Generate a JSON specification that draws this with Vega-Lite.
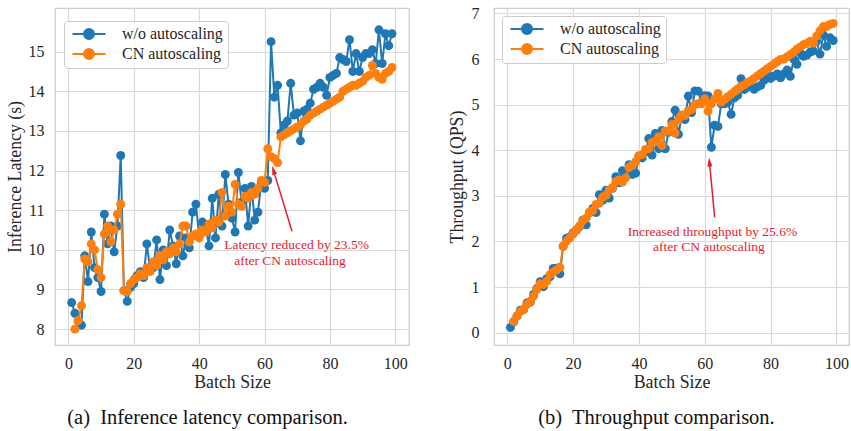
{
  "$schema": "https://vega.github.io/schema/vega-lite/v6.json",
  "padding": {"left": 5, "top": 4, "right": 0, "bottom": 0},
  "background": "white",
  "spacing": 37,
  "config": {
    "font": "Liberation Serif",
    "view": {"stroke": "#cccccc", "strokeWidth": 1.25},
    "axis": {"grid": true, "gridColor": "#d9d9d9", "gridWidth": 1.2, "domain": false, "ticks": false, "labelFont": "Liberation Serif", "labelFontSize": 16, "labelColor": "#262626", "titleFont": "Liberation Serif", "titleFontSize": 17.8, "titleFontWeight": "normal", "titleColor": "#262626"},
    "legend": {"labelFont": "Liberation Serif", "labelFontSize": 16, "labelColor": "#262626", "symbolType": "M-3.3,0L3.3,0M1,0A1,1,0,1,1,-1,0A1,1,0,1,1,1,0Z", "symbolSize": 100, "symbolStrokeWidth": 2, "symbolOffset": 12, "labelOffset": 25, "padding": 5, "rowPadding": 2, "fillColor": "rgba(255,255,255,0.8)", "strokeColor": "#cccccc", "cornerRadius": 3},
    "title": {"font": "Liberation Serif", "fontSize": 20.5, "fontWeight": "normal", "color": "#111111"}
  },
  "resolve": {"legend": {"color": "independent"}},
  "datasets": {
    "perf": [
      {"b":1,"s":"w/o autoscaling","lat":8.67,"qps":0.115},
      {"b":2,"s":"w/o autoscaling","lat":8.40,"qps":0.238},
      {"b":3,"s":"w/o autoscaling","lat":8.20,"qps":0.366},
      {"b":4,"s":"w/o autoscaling","lat":8.10,"qps":0.494},
      {"b":5,"s":"w/o autoscaling","lat":9.85,"qps":0.508},
      {"b":6,"s":"w/o autoscaling","lat":9.20,"qps":0.652},
      {"b":7,"s":"w/o autoscaling","lat":10.45,"qps":0.670},
      {"b":8,"s":"w/o autoscaling","lat":9.55,"qps":0.838},
      {"b":9,"s":"w/o autoscaling","lat":9.30,"qps":0.968},
      {"b":10,"s":"w/o autoscaling","lat":8.95,"qps":1.117},
      {"b":11,"s":"w/o autoscaling","lat":10.90,"qps":1.009},
      {"b":12,"s":"w/o autoscaling","lat":10.15,"qps":1.182},
      {"b":13,"s":"w/o autoscaling","lat":10.60,"qps":1.226},
      {"b":14,"s":"w/o autoscaling","lat":9.95,"qps":1.407},
      {"b":15,"s":"w/o autoscaling","lat":10.60,"qps":1.415},
      {"b":16,"s":"w/o autoscaling","lat":12.38,"qps":1.292},
      {"b":17,"s":"w/o autoscaling","lat":8.97,"qps":1.895},
      {"b":18,"s":"w/o autoscaling","lat":8.70,"qps":2.069},
      {"b":19,"s":"w/o autoscaling","lat":9.05,"qps":2.099},
      {"b":20,"s":"w/o autoscaling","lat":9.15,"qps":2.186},
      {"b":21,"s":"w/o autoscaling","lat":9.35,"qps":2.246},
      {"b":22,"s":"w/o autoscaling","lat":9.45,"qps":2.328},
      {"b":23,"s":"w/o autoscaling","lat":9.30,"qps":2.473},
      {"b":24,"s":"w/o autoscaling","lat":10.15,"qps":2.365},
      {"b":25,"s":"w/o autoscaling","lat":9.50,"qps":2.632},
      {"b":26,"s":"w/o autoscaling","lat":9.55,"qps":2.723},
      {"b":27,"s":"w/o autoscaling","lat":10.25,"qps":2.634},
      {"b":28,"s":"w/o autoscaling","lat":9.25,"qps":3.027},
      {"b":29,"s":"w/o autoscaling","lat":10.00,"qps":2.900},
      {"b":30,"s":"w/o autoscaling","lat":9.60,"qps":3.125},
      {"b":31,"s":"w/o autoscaling","lat":10.50,"qps":2.952},
      {"b":32,"s":"w/o autoscaling","lat":10.10,"qps":3.168},
      {"b":33,"s":"w/o autoscaling","lat":9.65,"qps":3.420},
      {"b":34,"s":"w/o autoscaling","lat":10.35,"qps":3.285},
      {"b":35,"s":"w/o autoscaling","lat":9.85,"qps":3.553},
      {"b":36,"s":"w/o autoscaling","lat":10.30,"qps":3.495},
      {"b":37,"s":"w/o autoscaling","lat":10.05,"qps":3.682},
      {"b":38,"s":"w/o autoscaling","lat":10.95,"qps":3.470},
      {"b":39,"s":"w/o autoscaling","lat":11.15,"qps":3.498},
      {"b":40,"s":"w/o autoscaling","lat":10.35,"qps":3.865},
      {"b":41,"s":"w/o autoscaling","lat":10.70,"qps":3.832},
      {"b":42,"s":"w/o autoscaling","lat":10.60,"qps":3.962},
      {"b":43,"s":"w/o autoscaling","lat":10.10,"qps":4.257},
      {"b":44,"s":"w/o autoscaling","lat":11.30,"qps":3.894},
      {"b":45,"s":"w/o autoscaling","lat":10.30,"qps":4.369},
      {"b":46,"s":"w/o autoscaling","lat":11.40,"qps":4.035},
      {"b":47,"s":"w/o autoscaling","lat":10.60,"qps":4.434},
      {"b":48,"s":"w/o autoscaling","lat":11.90,"qps":4.034},
      {"b":49,"s":"w/o autoscaling","lat":11.15,"qps":4.395},
      {"b":50,"s":"w/o autoscaling","lat":10.80,"qps":4.630},
      {"b":51,"s":"w/o autoscaling","lat":10.45,"qps":4.880},
      {"b":52,"s":"w/o autoscaling","lat":11.95,"qps":4.351},
      {"b":53,"s":"w/o autoscaling","lat":11.20,"qps":4.732},
      {"b":54,"s":"w/o autoscaling","lat":11.55,"qps":4.675},
      {"b":55,"s":"w/o autoscaling","lat":10.60,"qps":5.189},
      {"b":56,"s":"w/o autoscaling","lat":11.60,"qps":4.828},
      {"b":57,"s":"w/o autoscaling","lat":10.75,"qps":5.302},
      {"b":58,"s":"w/o autoscaling","lat":10.95,"qps":5.297},
      {"b":59,"s":"w/o autoscaling","lat":11.70,"qps":5.043},
      {"b":60,"s":"w/o autoscaling","lat":11.55,"qps":5.195},
      {"b":61,"s":"w/o autoscaling","lat":11.75,"qps":5.191},
      {"b":62,"s":"w/o autoscaling","lat":15.25,"qps":4.066},
      {"b":63,"s":"w/o autoscaling","lat":13.85,"qps":4.549},
      {"b":64,"s":"w/o autoscaling","lat":14.15,"qps":4.523},
      {"b":65,"s":"w/o autoscaling","lat":12.95,"qps":5.019},
      {"b":66,"s":"w/o autoscaling","lat":13.15,"qps":5.019},
      {"b":67,"s":"w/o autoscaling","lat":13.25,"qps":5.057},
      {"b":68,"s":"w/o autoscaling","lat":14.20,"qps":4.789},
      {"b":69,"s":"w/o autoscaling","lat":13.40,"qps":5.149},
      {"b":70,"s":"w/o autoscaling","lat":13.45,"qps":5.204},
      {"b":71,"s":"w/o autoscaling","lat":12.75,"qps":5.569},
      {"b":72,"s":"w/o autoscaling","lat":13.50,"qps":5.333},
      {"b":73,"s":"w/o autoscaling","lat":13.55,"qps":5.387},
      {"b":74,"s":"w/o autoscaling","lat":13.70,"qps":5.401},
      {"b":75,"s":"w/o autoscaling","lat":14.05,"qps":5.338},
      {"b":76,"s":"w/o autoscaling","lat":14.10,"qps":5.390},
      {"b":77,"s":"w/o autoscaling","lat":14.20,"qps":5.423},
      {"b":78,"s":"w/o autoscaling","lat":14.10,"qps":5.532},
      {"b":79,"s":"w/o autoscaling","lat":13.90,"qps":5.683},
      {"b":80,"s":"w/o autoscaling","lat":14.35,"qps":5.575},
      {"b":81,"s":"w/o autoscaling","lat":14.40,"qps":5.625},
      {"b":82,"s":"w/o autoscaling","lat":14.45,"qps":5.675},
      {"b":83,"s":"w/o autoscaling","lat":14.85,"qps":5.589},
      {"b":84,"s":"w/o autoscaling","lat":14.80,"qps":5.676},
      {"b":85,"s":"w/o autoscaling","lat":14.75,"qps":5.763},
      {"b":86,"s":"w/o autoscaling","lat":15.30,"qps":5.621},
      {"b":87,"s":"w/o autoscaling","lat":14.50,"qps":6.000},
      {"b":88,"s":"w/o autoscaling","lat":14.95,"qps":5.886},
      {"b":89,"s":"w/o autoscaling","lat":14.50,"qps":6.138},
      {"b":90,"s":"w/o autoscaling","lat":14.85,"qps":6.061},
      {"b":91,"s":"w/o autoscaling","lat":14.95,"qps":6.087},
      {"b":92,"s":"w/o autoscaling","lat":14.95,"qps":6.154},
      {"b":93,"s":"w/o autoscaling","lat":15.05,"qps":6.179},
      {"b":94,"s":"w/o autoscaling","lat":14.70,"qps":6.395},
      {"b":95,"s":"w/o autoscaling","lat":15.55,"qps":6.109},
      {"b":96,"s":"w/o autoscaling","lat":14.70,"qps":6.531},
      {"b":97,"s":"w/o autoscaling","lat":15.45,"qps":6.278},
      {"b":98,"s":"w/o autoscaling","lat":15.15,"qps":6.469},
      {"b":99,"s":"w/o autoscaling","lat":15.45,"qps":6.408},
      {"b":2,"s":"CN autoscaling","lat":8.00,"qps":0.250},
      {"b":3,"s":"CN autoscaling","lat":8.22,"qps":0.365},
      {"b":4,"s":"CN autoscaling","lat":8.59,"qps":0.466},
      {"b":5,"s":"CN autoscaling","lat":9.77,"qps":0.512},
      {"b":6,"s":"CN autoscaling","lat":9.70,"qps":0.619},
      {"b":7,"s":"CN autoscaling","lat":10.15,"qps":0.690},
      {"b":8,"s":"CN autoscaling","lat":10.00,"qps":0.800},
      {"b":9,"s":"CN autoscaling","lat":9.50,"qps":0.947},
      {"b":10,"s":"CN autoscaling","lat":9.30,"qps":1.075},
      {"b":11,"s":"CN autoscaling","lat":10.40,"qps":1.058},
      {"b":12,"s":"CN autoscaling","lat":10.60,"qps":1.132},
      {"b":13,"s":"CN autoscaling","lat":10.20,"qps":1.275},
      {"b":14,"s":"CN autoscaling","lat":10.50,"qps":1.333},
      {"b":15,"s":"CN autoscaling","lat":10.90,"qps":1.376},
      {"b":16,"s":"CN autoscaling","lat":11.15,"qps":1.435},
      {"b":17,"s":"CN autoscaling","lat":8.97,"qps":1.895},
      {"b":18,"s":"CN autoscaling","lat":8.95,"qps":2.011},
      {"b":19,"s":"CN autoscaling","lat":9.15,"qps":2.077},
      {"b":20,"s":"CN autoscaling","lat":9.25,"qps":2.162},
      {"b":21,"s":"CN autoscaling","lat":9.30,"qps":2.258},
      {"b":22,"s":"CN autoscaling","lat":9.40,"qps":2.340},
      {"b":23,"s":"CN autoscaling","lat":9.35,"qps":2.460},
      {"b":24,"s":"CN autoscaling","lat":9.55,"qps":2.513},
      {"b":25,"s":"CN autoscaling","lat":9.45,"qps":2.646},
      {"b":26,"s":"CN autoscaling","lat":9.70,"qps":2.680},
      {"b":27,"s":"CN autoscaling","lat":9.60,"qps":2.813},
      {"b":28,"s":"CN autoscaling","lat":9.85,"qps":2.843},
      {"b":29,"s":"CN autoscaling","lat":9.75,"qps":2.974},
      {"b":30,"s":"CN autoscaling","lat":9.95,"qps":3.015},
      {"b":31,"s":"CN autoscaling","lat":9.90,"qps":3.131},
      {"b":32,"s":"CN autoscaling","lat":10.05,"qps":3.184},
      {"b":33,"s":"CN autoscaling","lat":9.95,"qps":3.317},
      {"b":34,"s":"CN autoscaling","lat":10.15,"qps":3.350},
      {"b":35,"s":"CN autoscaling","lat":10.60,"qps":3.302},
      {"b":36,"s":"CN autoscaling","lat":10.60,"qps":3.396},
      {"b":37,"s":"CN autoscaling","lat":10.20,"qps":3.627},
      {"b":38,"s":"CN autoscaling","lat":10.35,"qps":3.671},
      {"b":39,"s":"CN autoscaling","lat":10.40,"qps":3.750},
      {"b":40,"s":"CN autoscaling","lat":10.30,"qps":3.883},
      {"b":41,"s":"CN autoscaling","lat":10.50,"qps":3.905},
      {"b":42,"s":"CN autoscaling","lat":10.45,"qps":4.019},
      {"b":43,"s":"CN autoscaling","lat":10.65,"qps":4.038},
      {"b":44,"s":"CN autoscaling","lat":10.55,"qps":4.171},
      {"b":45,"s":"CN autoscaling","lat":10.75,"qps":4.186},
      {"b":46,"s":"CN autoscaling","lat":10.70,"qps":4.299},
      {"b":47,"s":"CN autoscaling","lat":11.45,"qps":4.105},
      {"b":48,"s":"CN autoscaling","lat":10.85,"qps":4.424},
      {"b":49,"s":"CN autoscaling","lat":11.10,"qps":4.414},
      {"b":50,"s":"CN autoscaling","lat":10.95,"qps":4.566},
      {"b":51,"s":"CN autoscaling","lat":11.65,"qps":4.378},
      {"b":52,"s":"CN autoscaling","lat":11.15,"qps":4.664},
      {"b":53,"s":"CN autoscaling","lat":11.10,"qps":4.775},
      {"b":54,"s":"CN autoscaling","lat":11.35,"qps":4.758},
      {"b":55,"s":"CN autoscaling","lat":11.30,"qps":4.867},
      {"b":56,"s":"CN autoscaling","lat":11.45,"qps":4.891},
      {"b":57,"s":"CN autoscaling","lat":11.40,"qps":5.000},
      {"b":58,"s":"CN autoscaling","lat":11.55,"qps":5.022},
      {"b":59,"s":"CN autoscaling","lat":11.75,"qps":5.021},
      {"b":60,"s":"CN autoscaling","lat":11.70,"qps":5.128},
      {"b":61,"s":"CN autoscaling","lat":12.55,"qps":4.861},
      {"b":62,"s":"CN autoscaling","lat":12.35,"qps":5.020},
      {"b":63,"s":"CN autoscaling","lat":12.30,"qps":5.122},
      {"b":64,"s":"CN autoscaling","lat":12.20,"qps":5.246},
      {"b":65,"s":"CN autoscaling","lat":12.85,"qps":5.058},
      {"b":66,"s":"CN autoscaling","lat":12.90,"qps":5.116},
      {"b":67,"s":"CN autoscaling","lat":12.95,"qps":5.174},
      {"b":68,"s":"CN autoscaling","lat":13.00,"qps":5.231},
      {"b":69,"s":"CN autoscaling","lat":13.05,"qps":5.287},
      {"b":70,"s":"CN autoscaling","lat":13.10,"qps":5.344},
      {"b":71,"s":"CN autoscaling","lat":13.15,"qps":5.399},
      {"b":72,"s":"CN autoscaling","lat":13.25,"qps":5.434},
      {"b":73,"s":"CN autoscaling","lat":13.30,"qps":5.489},
      {"b":74,"s":"CN autoscaling","lat":13.40,"qps":5.522},
      {"b":75,"s":"CN autoscaling","lat":13.45,"qps":5.576},
      {"b":76,"s":"CN autoscaling","lat":13.50,"qps":5.630},
      {"b":77,"s":"CN autoscaling","lat":13.55,"qps":5.683},
      {"b":78,"s":"CN autoscaling","lat":13.60,"qps":5.735},
      {"b":79,"s":"CN autoscaling","lat":13.65,"qps":5.788},
      {"b":80,"s":"CN autoscaling","lat":13.70,"qps":5.839},
      {"b":81,"s":"CN autoscaling","lat":13.75,"qps":5.891},
      {"b":82,"s":"CN autoscaling","lat":13.80,"qps":5.942},
      {"b":83,"s":"CN autoscaling","lat":13.85,"qps":5.993},
      {"b":84,"s":"CN autoscaling","lat":14.00,"qps":6.000},
      {"b":85,"s":"CN autoscaling","lat":14.05,"qps":6.050},
      {"b":86,"s":"CN autoscaling","lat":14.10,"qps":6.099},
      {"b":87,"s":"CN autoscaling","lat":14.15,"qps":6.148},
      {"b":88,"s":"CN autoscaling","lat":14.15,"qps":6.219},
      {"b":89,"s":"CN autoscaling","lat":14.20,"qps":6.268},
      {"b":90,"s":"CN autoscaling","lat":14.25,"qps":6.316},
      {"b":91,"s":"CN autoscaling","lat":14.35,"qps":6.341},
      {"b":92,"s":"CN autoscaling","lat":14.40,"qps":6.389},
      {"b":93,"s":"CN autoscaling","lat":14.65,"qps":6.348},
      {"b":94,"s":"CN autoscaling","lat":14.45,"qps":6.505},
      {"b":95,"s":"CN autoscaling","lat":14.35,"qps":6.620},
      {"b":96,"s":"CN autoscaling","lat":14.30,"qps":6.713},
      {"b":97,"s":"CN autoscaling","lat":14.45,"qps":6.713},
      {"b":98,"s":"CN autoscaling","lat":14.50,"qps":6.759},
      {"b":99,"s":"CN autoscaling","lat":14.60,"qps":6.781}
    ]
  },
  "hconcat": [
    {
      "width": 354,
      "height": 337,
      "title": {"text": "(a)\u00a0 Inference latency comparison.", "orient": "bottom", "anchor": "middle", "frame": "bounds", "offset": 17},
      "encoding": {
        "x": {"field": "b", "type": "quantitative", "title": "Batch Size", "scale": {"domain": [-4.1, 104.2], "nice": false, "zero": false}, "axis": {"values": [0, 20, 40, 60, 80, 100], "labelPadding": 10, "titlePadding": 2}},
        "y": {"field": "lat", "type": "quantitative", "title": "Inference Latency (s)", "scale": {"domain": [7.6, 16.1], "nice": false, "zero": false}, "axis": {"values": [8, 9, 10, 11, 12, 13, 14, 15], "labelPadding": 11, "titlePadding": 4}}
      },
      "layer": [
        {
          "data": {"name": "perf"},
          "transform": [{"filter": "datum.s == 'w/o autoscaling'"}],
          "mark": {"type": "line", "strokeWidth": 2, "point": {"filled": true, "size": 80, "opacity": 1}},
          "encoding": {"color": {"field": "s", "type": "nominal", "scale": {"domain": ["w/o autoscaling", "CN autoscaling"], "range": ["#1f77b4", "#ff7f0e"]}, "legend": {"title": null, "orient": "none", "legendX": 9, "legendY": 13, "labelFont": "Liberation Serif", "labelFontSize": 16, "encode": {"symbols": {"update": {"fill": {"scale": "color", "field": "value"}, "stroke": {"scale": "color", "field": "value"}}}}}}}
        },
        {
          "data": {"name": "perf"},
          "transform": [{"filter": "datum.s == 'CN autoscaling'"}],
          "mark": {"type": "line", "strokeWidth": 2, "point": {"filled": true, "size": 80, "opacity": 1}},
          "encoding": {"color": {"field": "s", "type": "nominal", "scale": {"domain": ["w/o autoscaling", "CN autoscaling"], "range": ["#1f77b4", "#ff7f0e"]}, "legend": {"title": null, "orient": "none", "legendX": 9, "legendY": 13, "labelFont": "Liberation Serif", "labelFontSize": 16, "encode": {"symbols": {"update": {"fill": {"scale": "color", "field": "value"}, "stroke": {"scale": "color", "field": "value"}}}}}}}
        },
        {
          "data": {"values": [{"b": 68.4, "lat": 10.47, "b2": 62.72, "lat2": 12.01}]},
          "mark": {"type": "rule", "color": "#e8192c", "strokeWidth": 1.5},
          "encoding": {"x2": {"field": "b2"}, "y2": {"field": "lat2"}}
        },
        {
          "data": {"values": [{"b": 62.72, "lat": 12.01}]},
          "mark": {"type": "point", "shape": "M0,-1L0.55,1L-0.55,1Z", "filled": true, "color": "#e8192c", "size": 81, "angle": -17, "opacity": 1}
        },
        {
          "data": {"values": [{"b": 69.8, "lat": 10.01, "t": "Latency reduced by 23.5%"}, {"b": 67.8, "lat": 9.63, "t": "after CN autoscaling"}]},
          "mark": {"type": "text", "font": "Liberation Serif", "fontSize": 13.5, "color": "#e8192c", "align": "center", "baseline": "alphabetic"},
          "encoding": {"text": {"field": "t"}}
        }
      ]
    },
    {
      "width": 355,
      "height": 337,
      "title": {"text": "(b)\u00a0 Throughput comparison.", "orient": "bottom", "anchor": "middle", "frame": "bounds", "offset": 17, "dx": 8},
      "encoding": {
        "x": {"field": "b", "type": "quantitative", "title": "Batch Size", "scale": {"domain": [-4, 103.8], "nice": false, "zero": false}, "axis": {"values": [0, 20, 40, 60, 80, 100], "labelPadding": 10, "titlePadding": 2}},
        "y": {"field": "qps", "type": "quantitative", "title": "Throughput (QPS)", "scale": {"domain": [-0.27, 7.12], "nice": false, "zero": false}, "axis": {"values": [0, 1, 2, 3, 4, 5, 6, 7], "labelPadding": 15, "titlePadding": 5}}
      },
      "layer": [
        {
          "data": {"name": "perf"},
          "transform": [{"filter": "datum.s == 'w/o autoscaling'"}],
          "mark": {"type": "line", "strokeWidth": 2, "point": {"filled": true, "size": 80, "opacity": 1}},
          "encoding": {"color": {"field": "s", "type": "nominal", "scale": {"domain": ["w/o autoscaling", "CN autoscaling"], "range": ["#1f77b4", "#ff7f0e"]}, "legend": {"title": null, "orient": "none", "legendX": 8, "legendY": 8, "labelFont": "Liberation Serif", "labelFontSize": 16, "encode": {"symbols": {"update": {"fill": {"scale": "color", "field": "value"}, "stroke": {"scale": "color", "field": "value"}}}}}}}
        },
        {
          "data": {"name": "perf"},
          "transform": [{"filter": "datum.s == 'CN autoscaling'"}],
          "mark": {"type": "line", "strokeWidth": 2, "point": {"filled": true, "size": 80, "opacity": 1}},
          "encoding": {"color": {"field": "s", "type": "nominal", "scale": {"domain": ["w/o autoscaling", "CN autoscaling"], "range": ["#1f77b4", "#ff7f0e"]}, "legend": {"title": null, "orient": "none", "legendX": 8, "legendY": 8, "labelFont": "Liberation Serif", "labelFontSize": 16, "encode": {"symbols": {"update": {"fill": {"scale": "color", "field": "value"}, "stroke": {"scale": "color", "field": "value"}}}}}}}
        },
        {
          "data": {"values": [{"b": 63.0, "qps": 2.53, "b2": 61.42, "qps2": 3.743}]},
          "mark": {"type": "rule", "color": "#e8192c", "strokeWidth": 1.5},
          "encoding": {"x2": {"field": "b2"}, "y2": {"field": "qps2"}}
        },
        {
          "data": {"values": [{"b": 61.42, "qps": 3.743}]},
          "mark": {"type": "point", "shape": "M0,-1L0.55,1L-0.55,1Z", "filled": true, "color": "#e8192c", "size": 81, "angle": -5.4, "opacity": 1}
        },
        {
          "data": {"values": [{"b": 62.34, "qps": 2.123, "t": "Increased throughput by 25.6%"}, {"b": 61.26, "qps": 1.781, "t": "after CN autoscaling"}]},
          "mark": {"type": "text", "font": "Liberation Serif", "fontSize": 13.5, "color": "#e8192c", "align": "center", "baseline": "alphabetic"},
          "encoding": {"text": {"field": "t"}}
        }
      ]
    }
  ]
}
